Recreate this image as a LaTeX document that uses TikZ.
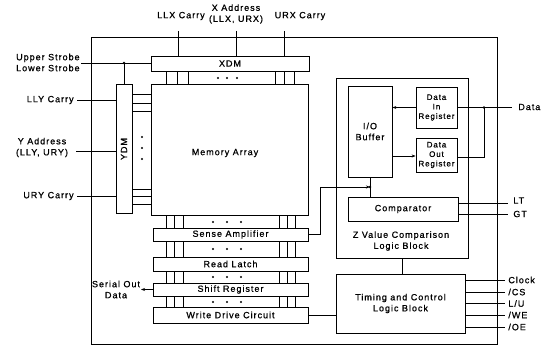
\documentclass[tikz,border=0pt]{standalone}
\usepackage{fontspec}
\setmainfont{Liberation Sans}
\newfontfamily\lab[LetterSpace=11,FakeBold=0.8]{Liberation Sans}
\usetikzlibrary{arrows.meta}
\begin{document}
\begin{tikzpicture}[x=1pt,y=-1pt,line width=0.75pt,
  blk/.style={draw,rectangle,inner sep=0pt,align=center,font=\lab\fontsize{9}{11}\selectfont},
  txt/.style={inner sep=0pt,align=center,font=\lab\fontsize{9}{11}\selectfont},
  sm/.style={font=\lab\fontsize{8}{9.5}\selectfont},
  arr/.style={-{Stealth[length=4pt,width=3pt]}}]
\useasboundingbox (0,0) rectangle (550,347);
% outer frame
\draw (91,37) rectangle (497,344);
% blocks
\node[blk,minimum width=158pt,minimum height=15pt] (xdm) at (230,63.5) {XDM};
\node[blk,minimum width=157pt,minimum height=131pt] (mem) at (229.5,149.5) {};
\node[txt] (memt) at (225,153) {Memory Array};
\node[blk,minimum width=16pt,minimum height=129pt] (ydm) at (124,148.5) {};
\node[txt,rotate=90] (ydmt) at (124,149) {YDM};
\node[blk,minimum width=155pt,minimum height=13pt] (sa) at (230.5,234.5) {Sense Amplifier};
\node[blk,minimum width=155pt,minimum height=14pt] (rl) at (230.5,264) {Read Latch};
\node[blk,minimum width=155pt,minimum height=13pt] (sr) at (230.5,289.5) {Shift Register};
\node[blk,minimum width=155pt,minimum height=16pt] (wd) at (230.5,315) {Write Drive Circuit};
\node[blk,minimum width=132pt,minimum height=180pt] (zb) at (402,168) {};
\node[txt] (zbt) at (401,241) {Z Value Comparison\\Logic Block};
\node[blk,minimum width=44pt,minimum height=91pt] (io) at (370,131.5) {I/O\\Buffer};
\node[blk,sm,minimum width=41pt,minimum height=41pt] (din) at (436.5,107.5) {Data\\In\\Register};
\node[blk,sm,minimum width=41pt,minimum height=34pt] (dout) at (436.5,155) {Data\\Out\\Register};
\node[blk,minimum width=110pt,minimum height=24pt] (comp) at (403,209) {Comparator};
\node[blk,minimum width=129pt,minimum height=59pt] (tc) at (400.5,303.5) {Timing and Control\\Logic Block};
% top labels
\node[txt] (llx) at (181,16) {LLX Carry};
\node[txt] (xad) at (236,14) {X Address\\(LLX, URX)};
\node[txt] (urx) at (300,16) {URX Carry};
\draw (178,31) -- (xdm.north -| 178,0);
\draw (236,31) -- (xdm.north -| 236,0);
\draw (284,31) -- (xdm.north -| 284,0);
% left labels
\node[txt,anchor=east,align=right] (ust) at (80,62.5) {Upper Strobe\\Lower Strobe};
\node[txt,anchor=east] (lly) at (74,100) {LLY Carry};
\node[txt] (yad) at (42,147.5) {Y Address\\(LLY, URY)};
\node[txt,anchor=east] (ury) at (74,196) {URY Carry};
\coordinate (sj) at (124,63);
\draw (81,63) -- (xdm.west |- sj);
\draw (sj) -- (ydm.north);
\fill (sj) circle (1.3pt);
\draw (77,100) -- (ydm.west |- 0,100);
\draw (76,151) -- (ydm.west |- 0,151);
\draw (77,196) -- (ydm.west |- 0,196);
% buses XDM-mem
\foreach \x in {166,177,188,275,284,294} \draw (xdm.south -| \x,0) -- (mem.north -| \x,0);
\foreach \x in {218,227,237} \fill (\x,78) circle (1.2pt);
% buses YDM-mem
\foreach \y in {94,103,111,189,196,204} \draw (ydm.east |- 0,\y) -- (mem.west |- 0,\y);
\foreach \y in {137,148,159} \fill (142,\y) circle (1.2pt);
% buses stack
\foreach \a/\b/\d in {mem/sa/222,sa/rl/249,rl/sr/277,sr/wd/302}{
  \foreach \x in {166,174,183,279,287,295} \draw (\a.south -| \x,0) -- (\b.north -| \x,0);
  \foreach \x in {213,227,241} \fill (\x,\d) circle (1.2pt);
}
% serial out
\node[txt] (sod) at (116,289.5) {Serial Out\\Data};
\draw[arr] (sr.west) -- (141,289.5);
% sense amp to io/comp
\coordinate (ioj) at (370,187);
\draw[arr] (sa.east) -- (320,234.5) -- (320,187) -- (ioj);
\draw (io.south) -- (comp.north -| io.south);
\fill (ioj) circle (1.3pt);
% data in/out
\draw[arr] (din.west) -- (io.east |- din.west);
\draw[arr] (io.east |- 0,156) -- (dout.west |- 0,156);
\coordinate (dj) at (484,107.5);
\node[txt,anchor=west] (dat) at (518,107) {Data};
\draw (din.east) -- (dj) -- (512,107.5);
\draw (dj) -- (484,157) -- (dout.east |- 0,157);
\fill (dj) circle (1.3pt);
% comparator outputs
\node[txt,anchor=west] (lt) at (513,200.5) {LT};
\node[txt,anchor=west] (gt) at (513,214) {GT};
\draw (comp.east |- 0,203) -- (508,203);
\draw (comp.east |- 0,214) -- (508,214);
% zb to tc
\draw (zb.south -| 402,0) -- (tc.north -| 402,0);
% write drive to tc
\draw (wd.east) -- (tc.west |- wd.east);
% control inputs
\foreach \y/\t/\n in {280/Clock/clk,292/{/CS}/cs,303.5/{L/U}/lu,315/{/WE}/we,327/{/OE}/oe}{
  \draw (tc.east |- 0,\y) -- (505,\y);
  \node[txt,anchor=west] (\n) at (508,\y) {\t};
}
\end{tikzpicture}
\end{document}
